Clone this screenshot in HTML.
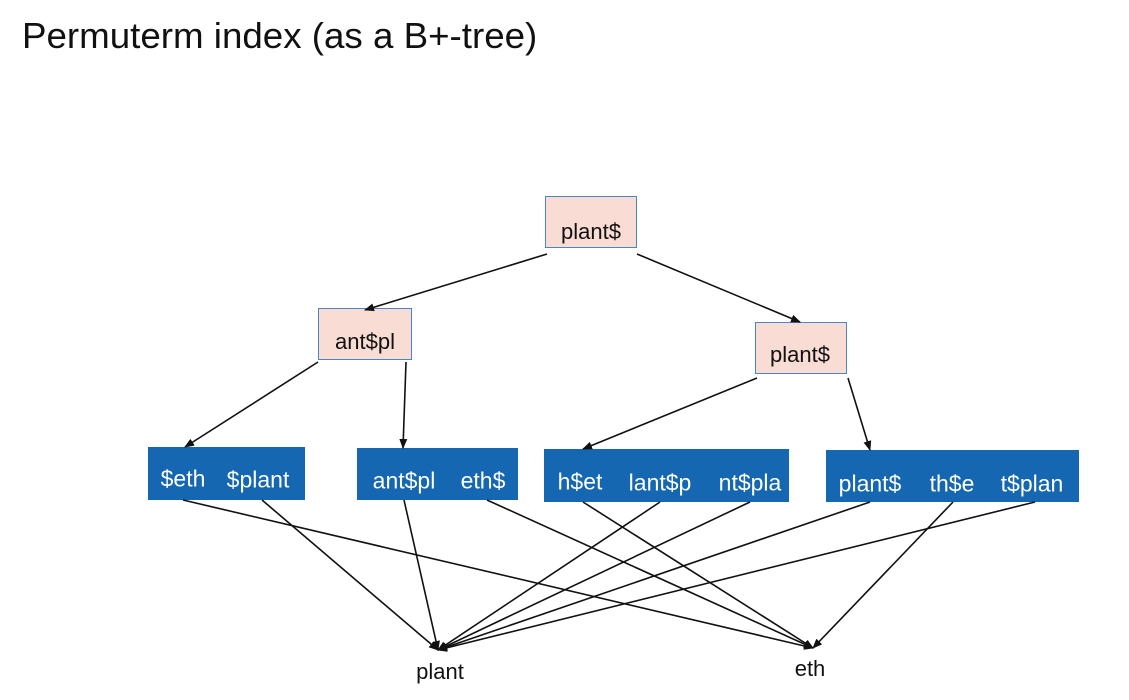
<!DOCTYPE html>
<html><head><style>
body{margin:0;width:1129px;height:700px;background:#fff;font-family:"Liberation Sans",sans-serif;position:relative;overflow:hidden}
.t{position:absolute;left:22px;top:15px;font-size:36px;color:#111;transform:scaleX(1.02);transform-origin:left}
.p{position:absolute;background:#f9dcd3;border:1px solid #4a86c5;box-sizing:border-box}
.b{position:absolute;background:#1467b0}
.c{position:absolute;transform:translate(-50%,-50%);white-space:nowrap;font-size:23px;transform-origin:center}
.w{color:#fff}
.k{color:#111}
svg{position:absolute;left:0;top:0}
</style></head><body>
<div class="t">Permuterm index (as a B+-tree)</div>
<div class="p" style="left:545px;top:196px;width:92px;height:52px"></div>
<div class="p" style="left:318px;top:308px;width:94px;height:52px"></div>
<div class="p" style="left:755px;top:322px;width:92px;height:52px"></div>
<div class="b" style="left:148px;top:447px;width:157px;height:53px"></div>
<div class="b" style="left:357px;top:448px;width:161px;height:52px"></div>
<div class="b" style="left:544px;top:449px;width:245px;height:53px"></div>
<div class="b" style="left:826px;top:450px;width:253px;height:52px"></div>
<div class="c k" style="left:591px;top:232px;font-size:22px">plant$</div>
<div class="c k" style="left:365px;top:342px;font-size:22px">ant$pl</div>
<div class="c k" style="left:800px;top:355px;font-size:22px">plant$</div>
<div class="c w" style="left:183px;top:479px">$eth</div>
<div class="c w" style="left:258px;top:480px">$plant</div>
<div class="c w" style="left:404px;top:481px">ant$pl</div>
<div class="c w" style="left:483px;top:481px">eth$</div>
<div class="c w" style="left:580px;top:482px">h$et</div>
<div class="c w" style="left:660px;top:483px">lant$p</div>
<div class="c w" style="left:750px;top:483px">nt$pla</div>
<div class="c w" style="left:870px;top:484px">plant$</div>
<div class="c w" style="left:952px;top:484px">th$e</div>
<div class="c w" style="left:1032px;top:484px">t$plan</div>
<div class="c k" style="left:440px;top:672px;font-size:22px">plant</div>
<div class="c k" style="left:810px;top:669px;font-size:22px">eth</div>
<svg width="1129" height="700">
<defs><marker id="a" markerWidth="10" markerHeight="8" refX="9" refY="4" orient="auto" markerUnits="userSpaceOnUse"><path d="M0,0L10,4L0,8z" fill="#111"/></marker></defs>
<g stroke="#111" stroke-width="1.6" fill="none" marker-end="url(#a)">
<line x1="547" y1="254" x2="365" y2="310"/>
<line x1="637" y1="254" x2="800" y2="322"/>
<line x1="318" y1="362" x2="185" y2="447"/>
<line x1="406" y1="362" x2="403" y2="448"/>
<line x1="757" y1="378" x2="583" y2="449"/>
<line x1="848" y1="378" x2="870" y2="450"/>
<line x1="183" y1="500" x2="813" y2="648"/>
<line x1="262" y1="500" x2="438" y2="650"/>
<line x1="404" y1="500" x2="438" y2="650"/>
<line x1="487" y1="500" x2="813" y2="648"/>
<line x1="583" y1="502" x2="813" y2="648"/>
<line x1="660" y1="502" x2="438" y2="650"/>
<line x1="750" y1="502" x2="438" y2="650"/>
<line x1="870" y1="502" x2="438" y2="650"/>
<line x1="953" y1="502" x2="813" y2="648"/>
<line x1="1035" y1="502" x2="438" y2="650"/>
</g></svg>
</body></html>
